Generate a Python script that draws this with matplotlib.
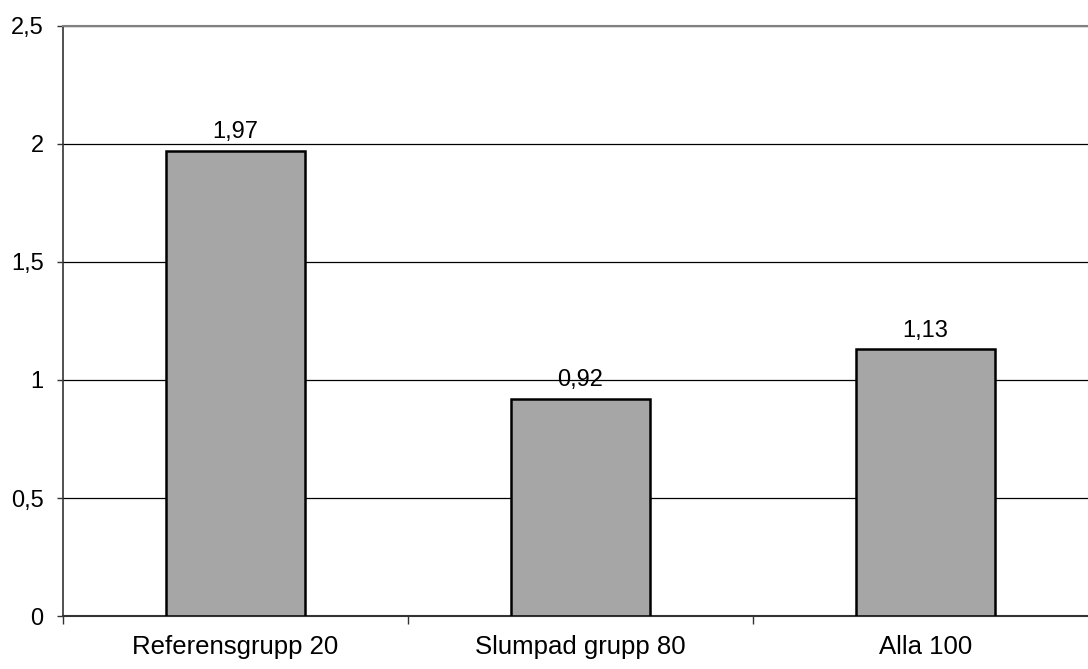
import matplotlib.pyplot as plt
from matplotlib.ticker import FixedLocator

plt.rcParams['font.family'] = ['Liberation Sans', 'DejaVu Sans']

groups = ['Referensgrupp 20', 'Slumpad grupp 80', 'Alla 100']
values = [1.97, 0.92, 1.13]
yticks = [0, 0.5, 1, 1.5, 2, 2.5]
ytick_labels = ['0', '0,5', '1', '1,5', '2', '2,5']

fig = plt.figure(figsize=(10.88, 6.69), dpi=100)
ax = fig.add_axes([0.0579, 0.0792, 0.951, 0.882])

x = range(len(groups))
bars = ax.bar(x, values, width=0.403, color='#a6a6a6', edgecolor='black',
              linewidth=1.8, zorder=3)
for b, v in zip(bars, values):
    ax.annotate(('%.2f' % v).replace('.', ','),
                (b.get_x() + b.get_width() / 2, v),
                xytext=(0, 5.5), textcoords='offset points',
                ha='center', va='bottom', fontsize=17)

ax.set_xlim(-0.5, 2.5)
ax.set_ylim(0, 2.5)
ax.set_yticks(yticks)
ax.set_yticklabels(ytick_labels)
ax.set_xticks(list(x))
ax.set_xticklabels(groups)
ax.xaxis.set_minor_locator(FixedLocator([-0.5, 0.5, 1.5]))
ax.tick_params(axis='x', which='major', length=0, pad=14, labelsize=18.5)
ax.tick_params(axis='x', which='minor', length=6, width=1, color='#333333')
ax.tick_params(axis='y', length=4, width=1, color='#333333', pad=10, labelsize=17)

ax.grid(axis='y', color='black', linewidth=0.9, zorder=0)
ax.spines['right'].set_visible(False)
ax.spines['top'].set_color('#808080')
ax.spines['top'].set_linewidth(1.5)
ax.spines['left'].set_color('#333333')
ax.spines['left'].set_linewidth(1.2)
ax.spines['bottom'].set_color('#333333')
ax.spines['bottom'].set_linewidth(1.5)
ax.set_axisbelow(True)

fig.savefig('out.png', dpi=100)
